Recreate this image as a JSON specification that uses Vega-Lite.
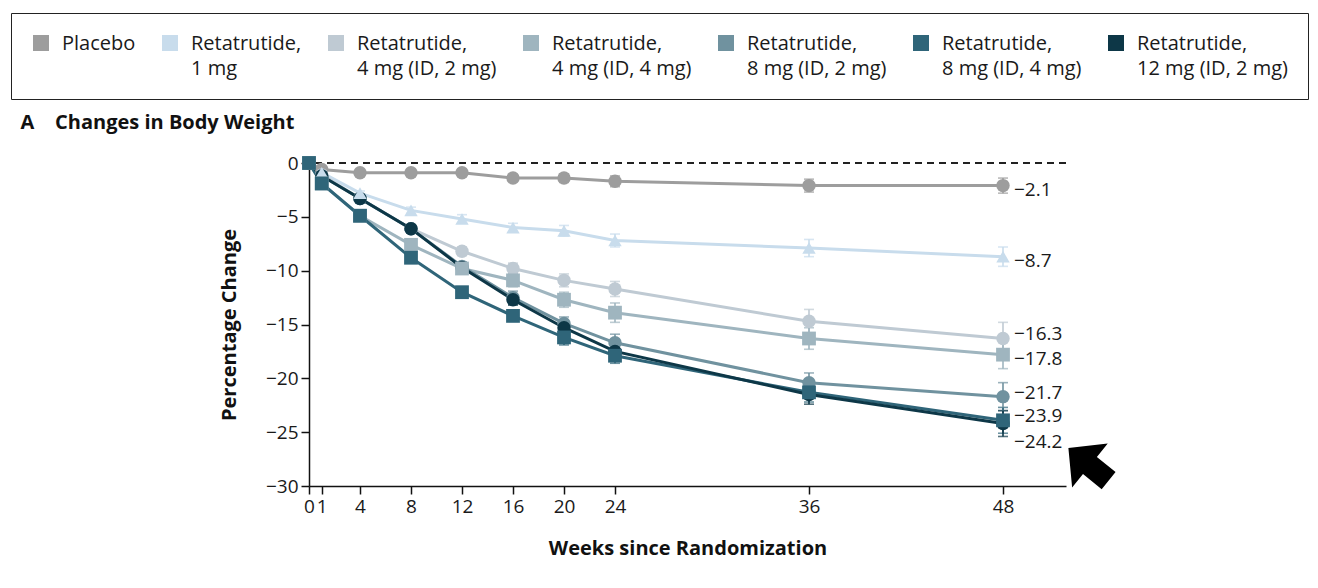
{
  "$schema": "https://vega.github.io/schema/vega-lite/v6.json",
  "width": 757,
  "height": 323,
  "padding": {"left": 10, "top": 12, "right": 5, "bottom": 5},
  "autosize": {"type": "pad"},
  "background": "white",
  "title": {"text": "A\u00a0\u00a0\u00a0\u00a0Changes in Body Weight", "anchor": "start", "frame": "bounds", "fontSize": 20, "fontWeight": "bold", "color": "#111", "dx": 10, "offset": -120},
  "datasets": {
    "main": [
      {"group": "Placebo", "week": 0, "value": 0, "se": 0},
      {"group": "Placebo", "week": 1, "value": -0.6, "se": 0.1},
      {"group": "Placebo", "week": 4, "value": -0.9, "se": 0.2},
      {"group": "Placebo", "week": 8, "value": -0.9, "se": 0.2},
      {"group": "Placebo", "week": 12, "value": -0.9, "se": 0.3},
      {"group": "Placebo", "week": 16, "value": -1.4, "se": 0.3},
      {"group": "Placebo", "week": 20, "value": -1.4, "se": 0.4},
      {"group": "Placebo", "week": 24, "value": -1.7, "se": 0.5},
      {"group": "Placebo", "week": 36, "value": -2.1, "se": 0.6},
      {"group": "Placebo", "week": 48, "value": -2.1, "se": 0.7},
      {"group": "Retatrutide,|1 mg", "week": 0, "value": 0, "se": 0},
      {"group": "Retatrutide,|1 mg", "week": 1, "value": -0.9, "se": 0.1},
      {"group": "Retatrutide,|1 mg", "week": 4, "value": -2.8, "se": 0.2},
      {"group": "Retatrutide,|1 mg", "week": 8, "value": -4.4, "se": 0.3},
      {"group": "Retatrutide,|1 mg", "week": 12, "value": -5.2, "se": 0.4},
      {"group": "Retatrutide,|1 mg", "week": 16, "value": -6.0, "se": 0.4},
      {"group": "Retatrutide,|1 mg", "week": 20, "value": -6.3, "se": 0.5},
      {"group": "Retatrutide,|1 mg", "week": 24, "value": -7.2, "se": 0.6},
      {"group": "Retatrutide,|1 mg", "week": 36, "value": -7.9, "se": 0.8},
      {"group": "Retatrutide,|1 mg", "week": 48, "value": -8.7, "se": 0.9},
      {"group": "Retatrutide,|4 mg (ID, 2 mg)", "week": 0, "value": 0, "se": 0},
      {"group": "Retatrutide,|4 mg (ID, 2 mg)", "week": 1, "value": -1.1, "se": 0.1},
      {"group": "Retatrutide,|4 mg (ID, 2 mg)", "week": 4, "value": -3.3, "se": 0.2},
      {"group": "Retatrutide,|4 mg (ID, 2 mg)", "week": 8, "value": -6.1, "se": 0.3},
      {"group": "Retatrutide,|4 mg (ID, 2 mg)", "week": 12, "value": -8.2, "se": 0.4},
      {"group": "Retatrutide,|4 mg (ID, 2 mg)", "week": 16, "value": -9.8, "se": 0.5},
      {"group": "Retatrutide,|4 mg (ID, 2 mg)", "week": 20, "value": -10.9, "se": 0.6},
      {"group": "Retatrutide,|4 mg (ID, 2 mg)", "week": 24, "value": -11.7, "se": 0.7},
      {"group": "Retatrutide,|4 mg (ID, 2 mg)", "week": 36, "value": -14.7, "se": 1.1},
      {"group": "Retatrutide,|4 mg (ID, 2 mg)", "week": 48, "value": -16.3, "se": 1.5},
      {"group": "Retatrutide,|4 mg (ID, 4 mg)", "week": 0, "value": 0, "se": 0},
      {"group": "Retatrutide,|4 mg (ID, 4 mg)", "week": 1, "value": -1.9, "se": 0.1},
      {"group": "Retatrutide,|4 mg (ID, 4 mg)", "week": 4, "value": -4.9, "se": 0.2},
      {"group": "Retatrutide,|4 mg (ID, 4 mg)", "week": 8, "value": -7.6, "se": 0.3},
      {"group": "Retatrutide,|4 mg (ID, 4 mg)", "week": 12, "value": -9.8, "se": 0.4},
      {"group": "Retatrutide,|4 mg (ID, 4 mg)", "week": 16, "value": -10.9, "se": 0.6},
      {"group": "Retatrutide,|4 mg (ID, 4 mg)", "week": 20, "value": -12.7, "se": 0.7},
      {"group": "Retatrutide,|4 mg (ID, 4 mg)", "week": 24, "value": -13.9, "se": 0.9},
      {"group": "Retatrutide,|4 mg (ID, 4 mg)", "week": 36, "value": -16.3, "se": 1.0},
      {"group": "Retatrutide,|4 mg (ID, 4 mg)", "week": 48, "value": -17.8, "se": 1.3},
      {"group": "Retatrutide,|8 mg (ID, 2 mg)", "week": 0, "value": 0, "se": 0},
      {"group": "Retatrutide,|8 mg (ID, 2 mg)", "week": 1, "value": -1.2, "se": 0.1},
      {"group": "Retatrutide,|8 mg (ID, 2 mg)", "week": 4, "value": -3.3, "se": 0.2},
      {"group": "Retatrutide,|8 mg (ID, 2 mg)", "week": 8, "value": -6.1, "se": 0.3},
      {"group": "Retatrutide,|8 mg (ID, 2 mg)", "week": 12, "value": -9.6, "se": 0.4},
      {"group": "Retatrutide,|8 mg (ID, 2 mg)", "week": 16, "value": -12.5, "se": 0.6},
      {"group": "Retatrutide,|8 mg (ID, 2 mg)", "week": 20, "value": -14.9, "se": 0.6},
      {"group": "Retatrutide,|8 mg (ID, 2 mg)", "week": 24, "value": -16.7, "se": 0.8},
      {"group": "Retatrutide,|8 mg (ID, 2 mg)", "week": 36, "value": -20.4, "se": 0.9},
      {"group": "Retatrutide,|8 mg (ID, 2 mg)", "week": 48, "value": -21.7, "se": 1.3},
      {"group": "Retatrutide,|8 mg (ID, 4 mg)", "week": 0, "value": 0, "se": 0},
      {"group": "Retatrutide,|8 mg (ID, 4 mg)", "week": 1, "value": -1.9, "se": 0.1},
      {"group": "Retatrutide,|8 mg (ID, 4 mg)", "week": 4, "value": -4.9, "se": 0.2},
      {"group": "Retatrutide,|8 mg (ID, 4 mg)", "week": 8, "value": -8.8, "se": 0.3},
      {"group": "Retatrutide,|8 mg (ID, 4 mg)", "week": 12, "value": -12.0, "se": 0.4},
      {"group": "Retatrutide,|8 mg (ID, 4 mg)", "week": 16, "value": -14.2, "se": 0.5},
      {"group": "Retatrutide,|8 mg (ID, 4 mg)", "week": 20, "value": -16.2, "se": 0.7},
      {"group": "Retatrutide,|8 mg (ID, 4 mg)", "week": 24, "value": -17.9, "se": 0.7},
      {"group": "Retatrutide,|8 mg (ID, 4 mg)", "week": 36, "value": -21.3, "se": 0.9},
      {"group": "Retatrutide,|8 mg (ID, 4 mg)", "week": 48, "value": -23.9, "se": 1.2},
      {"group": "Retatrutide,| 12 mg (ID, 2 mg)", "week": 0, "value": 0, "se": 0},
      {"group": "Retatrutide,| 12 mg (ID, 2 mg)", "week": 1, "value": -1.2, "se": 0.1},
      {"group": "Retatrutide,| 12 mg (ID, 2 mg)", "week": 4, "value": -3.3, "se": 0.2},
      {"group": "Retatrutide,| 12 mg (ID, 2 mg)", "week": 8, "value": -6.1, "se": 0.3},
      {"group": "Retatrutide,| 12 mg (ID, 2 mg)", "week": 12, "value": -9.7, "se": 0.4},
      {"group": "Retatrutide,| 12 mg (ID, 2 mg)", "week": 16, "value": -12.7, "se": 0.5},
      {"group": "Retatrutide,| 12 mg (ID, 2 mg)", "week": 20, "value": -15.3, "se": 0.6},
      {"group": "Retatrutide,| 12 mg (ID, 2 mg)", "week": 24, "value": -17.5, "se": 0.7},
      {"group": "Retatrutide,| 12 mg (ID, 2 mg)", "week": 36, "value": -21.5, "se": 0.9},
      {"group": "Retatrutide,| 12 mg (ID, 2 mg)", "week": 48, "value": -24.2, "se": 1.2}
    ],
    "arrow": [{"week": 53.3, "value": -28.0}]
  },
  "data": {"name": "main"},
  "encoding": {
    "x": {
      "field": "week", "type": "quantitative",
      "scale": {"domain": [0, 24, 48, 51.9], "range": [0, 306, 694, 757], "nice": false, "zero": false},
      "axis": {
        "values": [0, 1, 4, 8, 12, 16, 20, 24, 36, 48],
        "title": "Weeks since Randomization",
        "labelOverlap": false,
        "labelFlush": false
      }
    },
    "y": {
      "field": "value", "type": "quantitative",
      "scale": {"domain": [-30, 0], "nice": false, "zero": false},
      "axis": {
        "values": [0, -5, -10, -15, -20, -25, -30],
        "title": "Percentage Change",
        "titlePadding": 26
      }
    },
    "color": {
      "field": "group", "type": "nominal",
      "scale": {
        "domain": ["Placebo", "Retatrutide,|1 mg", "Retatrutide,|4 mg (ID, 2 mg)", "Retatrutide,|4 mg (ID, 4 mg)", "Retatrutide,|8 mg (ID, 2 mg)", "Retatrutide,|8 mg (ID, 4 mg)", "Retatrutide,| 12 mg (ID, 2 mg)"],
        "range": ["#9d9d9d", "#c8dcec", "#bfcad3", "#9fb5bf", "#70929f", "#2f6579", "#0d3747"]
      },
      "legend": {
        "orient": "none", "legendX": -298, "legendY": -150,
        "direction": "horizontal", "title": null,
        "symbolType": "square", "symbolSize": 256, "symbolStrokeWidth": 0, "symbolOpacity": 1,
        "labelExpr": "datum.label == 'Placebo' ? ['Placebo', ' '] : split(datum.label, '|')",
        "labelFontSize": 20, "labelColor": "#1a1a1a", "labelLimit": 300,
        "labelOffset": 11, "columnPadding": 24,
        "labelBaseline": "top",
        "padding": 20, "strokeColor": "#222",
        "encode": {"labels": {"update": {"dy": {"value": -9}}}}
      }
    }
  },
  "layer": [
    {
      "mark": {"type": "rule", "strokeDash": [7, 5], "strokeWidth": 1.5, "color": "#222"},
      "encoding": {"y": {"datum": 0}, "x": null, "color": null}
    },
    {
      "transform": [{"filter": "datum.se > 0"}],
      "mark": {"type": "errorbar", "ticks": {"size": 10, "thickness": 1.6}, "thickness": 1.6},
      "encoding": {"yError": {"field": "se"}}
    },
    {
      "mark": {"type": "line", "strokeWidth": 3},
      "encoding": {}
    },
    {
      "transform": [{"filter": {"field": "group", "oneOf": ["Placebo", "Retatrutide,|4 mg (ID, 2 mg)", "Retatrutide,|8 mg (ID, 2 mg)", "Retatrutide,| 12 mg (ID, 2 mg)"]}}],
      "mark": {"type": "point", "shape": "circle", "filled": true, "opacity": 1, "size": 180},
      "encoding": {}
    },
    {
      "transform": [{"filter": {"field": "group", "oneOf": ["Retatrutide,|1 mg"]}}],
      "mark": {"type": "point", "shape": "triangle-up", "filled": true, "opacity": 1, "size": 180},
      "encoding": {}
    },
    {
      "transform": [{"filter": {"field": "group", "oneOf": ["Retatrutide,|4 mg (ID, 4 mg)", "Retatrutide,|8 mg (ID, 4 mg)"]}}],
      "mark": {"type": "point", "shape": "square", "filled": true, "opacity": 1, "size": 190},
      "encoding": {}
    },
    {
      "transform": [{"filter": {"and": [{"field": "week", "equal": 48}, {"field": "group", "oneOf": ["Placebo", "Retatrutide,|1 mg", "Retatrutide,|4 mg (ID, 4 mg)"]}]}}],
      "mark": {"type": "text", "align": "left", "baseline": "middle", "dx": 11, "dy": 4, "fontSize": 19, "color": "#1a1a1a"},
      "encoding": {"text": {"field": "value", "format": ".1f"}, "color": null}
    },
    {
      "transform": [{"filter": {"and": [{"field": "week", "equal": 48}, {"field": "group", "oneOf": ["Retatrutide,|4 mg (ID, 2 mg)", "Retatrutide,|8 mg (ID, 2 mg)", "Retatrutide,|8 mg (ID, 4 mg)"]}]}}],
      "mark": {"type": "text", "align": "left", "baseline": "middle", "dx": 11, "dy": -4, "fontSize": 19, "color": "#1a1a1a"},
      "encoding": {"text": {"field": "value", "format": ".1f"}, "color": null}
    },
    {
      "transform": [{"filter": {"and": [{"field": "week", "equal": 48}, {"field": "group", "oneOf": ["Retatrutide,| 12 mg (ID, 2 mg)"]}]}}],
      "mark": {"type": "text", "align": "left", "baseline": "middle", "dx": 11, "dy": 18, "fontSize": 19, "color": "#1a1a1a"},
      "encoding": {"text": {"field": "value", "format": ".1f"}, "color": null}
    },
    {
      "data": {"name": "arrow"},
      "mark": {"type": "point", "filled": true, "opacity": 1, "color": "black", "size": 3200, "angle": -51,
        "shape": "M0,-0.92 L1,0.06 L0.39,0.06 L0.39,0.91 L-0.39,0.91 L-0.39,0.06 L-1,0.06 Z"},
      "encoding": {"color": null}
    }
  ],
  "config": {
    "font": "Open Sans",
    "view": {"stroke": null},
    "style": {"guide-label": {"lineHeight": 25}},
    "axis": {
      "grid": false, "domainColor": "#111", "domainWidth": 1.5, "tickColor": "#111", "tickWidth": 1.5, "tickSize": 8,
      "labelFontSize": 19, "labelColor": "#1a1a1a", "labelPadding": 3,
      "titleFontSize": 20, "titleFontWeight": "bold", "titleColor": "#111"
    },
    "axisX": {"titlePadding": 22}
  }
}
